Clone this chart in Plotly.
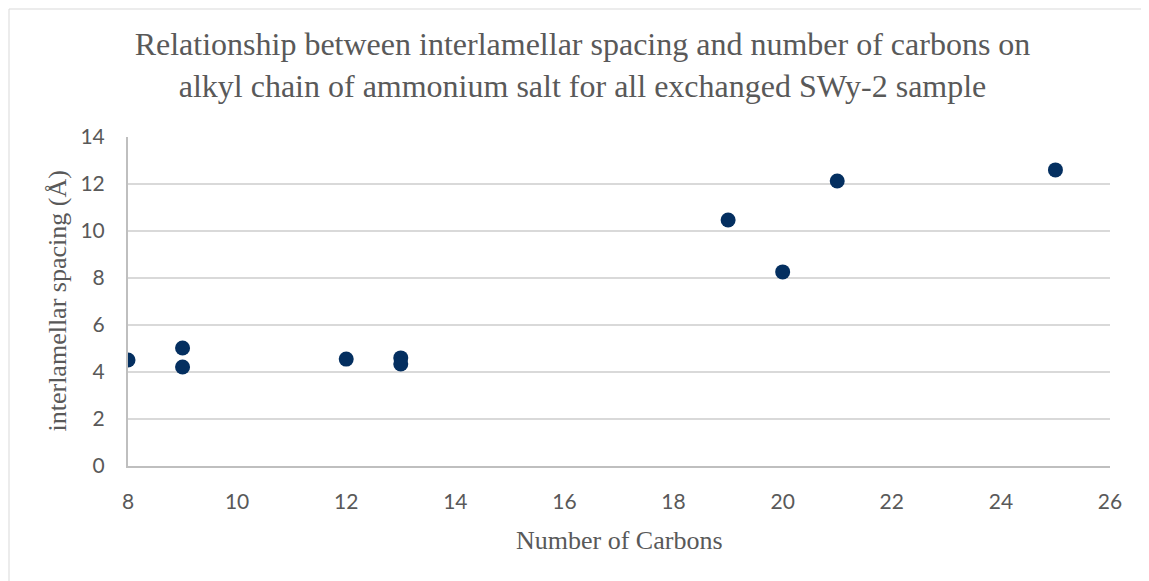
import plotly.graph_objects as go

carbons = [8, 9, 9, 12, 13, 13, 19, 20, 21, 25]
spacing = [4.51, 5.02, 4.21, 4.55, 4.6, 4.34, 10.47, 8.26, 12.13, 12.6]

W, H = 1149, 581
L, R, T, B = 120, 47, 129, 123
pw, ph = W - L - R, H - T - B

serif = "Liberation Serif, Times New Roman, serif"
gray = "#595959"

fig = go.Figure(go.Scatter(
    x=carbons, y=spacing, mode="markers",
    marker=dict(color="#042f60", size=15),
))

tickfont = dict(family="Lato, DejaVu Sans, sans-serif", size=21, color=gray)
fig.update_layout(
    width=W, height=H,
    margin=dict(l=L, r=R, t=T, b=B),
    paper_bgcolor="white", plot_bgcolor="white",
    showlegend=False,
    title=dict(
        text="Relationship between interlamellar spacing and number of carbons on<br>alkyl chain of ammonium salt for all exchanged SWy-2 sample",
        x=0.5, xanchor="center", y=1 - 47 / H, yanchor="middle",
        font=dict(family=serif, size=32, color=gray),
    ),
    xaxis=dict(
        range=[8, 26], dtick=2, tick0=8, showgrid=False, zeroline=False,
        showline=True, linecolor="#bfbfbf", linewidth=2,
        ticks="outside", ticklen=16, tickcolor="rgba(0,0,0,0)", tickfont=tickfont,
    ),
    yaxis=dict(
        range=[0, 14], dtick=2, showgrid=True, gridcolor="#d9d9d9", gridwidth=2,
        zeroline=False, showline=True, linecolor="#bfbfbf", linewidth=2,
        ticks="outside", ticklen=17, tickcolor="rgba(0,0,0,0)", tickfont=tickfont,
    ),
    annotations=[
        dict(text="Number of Carbons", xref="paper", yref="paper",
             x=0.5, y=-(532 - (H - B)) / ph, xanchor="center", yanchor="middle",
             showarrow=False, font=dict(family=serif, size=26, color=gray)),
        dict(text="interlamellar spacing (Å)", xref="paper", yref="paper",
             x=(49 - L) / pw, y=0.5, xanchor="center", yanchor="middle", textangle=-90,
             showarrow=False, font=dict(family=serif, size=26, color=gray)),
    ],
    shapes=[
        dict(type="line", xref="paper", yref="paper",
             x0=(1 - L) / pw, x1=(W + 20 - L) / pw, y0=1 + (T - 1) / ph, y1=1 + (T - 1) / ph,
             line=dict(color="#d9d9d9", width=1)),
        dict(type="line", xref="paper", yref="paper",
             x0=(1 - L) / pw, x1=(1 - L) / pw, y0=1 + (T - 1) / ph, y1=-(B + 20) / ph,
             line=dict(color="#d9d9d9", width=1)),
    ],
)

fig.write_html("out.html")
